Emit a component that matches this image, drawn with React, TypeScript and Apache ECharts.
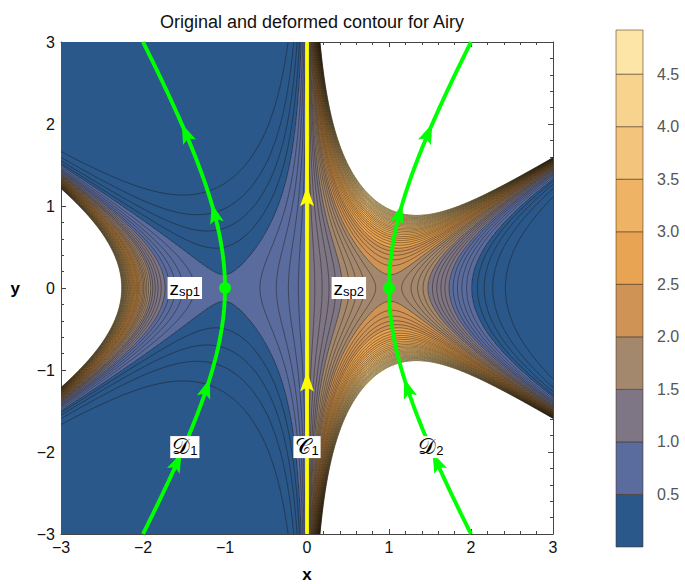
import React, { useEffect, useRef } from 'react';
import * as echarts from 'echarts';

const FONT = '"Liberation Sans", Arial, Helvetica, sans-serif';

const chartTitle = 'Original and deformed contour for Airy';
// plotted quantity: |exp(φ(z))| with φ(z) = z − z³/3 (coefficients c0..c3)
const phaseCoeffs = [0, 1, 0, -1 / 3];
const plotMin = -3;
const plotMax = 3;
const bandEdges = [0, 0.5, 1, 1.5, 2, 2.5, 3, 3.5, 4, 4.5, 5];
const bandColors = ['#2a588b', '#5a6b9e', '#7e7684', '#a4886e', '#cf9356', '#e8a452', '#eeb364', '#f3c47b', '#f8d38e', '#fde5a8'];
const contourLevels = [
  0.1, 0.2, 0.3, 0.4, 0.5, 0.6, 0.7, 0.8, 0.9, 1.0,
  1.1, 1.2, 1.3, 1.4, 1.5, 1.6, 1.7, 1.8, 1.9, 2.0,
  2.1, 2.2, 2.3, 2.4, 2.5, 2.6, 2.7, 2.8, 2.9, 3.0,
  3.1, 3.2, 3.3, 3.4, 3.5, 3.6, 3.7, 3.8, 3.9, 4.0,
  4.1, 4.2, 4.3, 4.4, 4.5, 4.6, 4.7, 4.8, 4.9,
];
const legendTicks = [0.5, 1, 1.5, 2, 2.5, 3, 3.5, 4, 4.5];
const legendTop = 4.92;
const saddlePoints = [[-1, 0], [1, 0]];
const pathLabels = [
  { text: '{m|z}{s|sp1}', x: -1.49, y: 0 },
  { text: '{m|z}{s|sp2}', x: 0.51, y: 0 },
  { text: '{d|𝒟}{s|1}', x: -1.49, y: -1.94 },
  { text: '{d|𝒞}{s|1}', x: 0, y: -1.94 },
  { text: '{d|𝒟}{s|2}', x: 1.51, y: -1.94 },
];
const descentBranches = [-1, 1]; // x = ±√(1 + y²/3): Im φ = 0 through the saddles
const descentArrowYs = [-2.12, -1.22, 0.91, 1.89];
const originalLineX = 0;
const originalArrowYs = [-1.14, 1.12];

function rePhase(x: number, y: number) {
  let zr = 1, zi = 0, s = 0;
  for (const c of phaseCoeffs) {
    s += c * zr;
    const nr = zr * x - zi * y;
    const ni = zr * y + zi * x;
    zr = nr; zi = ni;
  }
  return s;
}

function bandOf(g: number) {
  const v = Math.exp(g);
  if (v > bandEdges[bandEdges.length - 1]) return -1;
  for (let k = 1; k < bandEdges.length; k++) if (v < bandEdges[k]) return k - 1;
  return bandEdges.length - 2;
}

function buildRuns() {
  const n = 492;
  const d = (plotMax - plotMin) / n;
  const runs: number[][] = [];
  for (let r = 0; r < n; r++) {
    const y0 = plotMin + r * d;
    const yc = y0 + d / 2;
    let cur = -2, start = 0;
    for (let c = 0; c <= n; c++) {
      const b = c < n ? bandOf(rePhase(plotMin + (c + 0.5) * d, yc)) : -3;
      if (b !== cur) {
        if (cur >= 0) runs.push([plotMin + start * d, plotMin + c * d, y0, y0 + d, cur]);
        cur = b; start = c;
      }
    }
  }
  return runs;
}

function buildContours() {
  const N = 300;
  const h = (plotMax - plotMin) / N;
  const W = N + 1;
  const G = new Float64Array(W * W);
  for (let j = 0; j <= N; j++) for (let i = 0; i <= N; i++) G[j * W + i] = rePhase(plotMin + i * h, plotMin + j * h);
  const lines: number[][][] = [];
  for (const lev of contourLevels) {
    const L = Math.log(lev);
    const pts = new Map<number, number[]>();
    const sA: number[] = [], sB: number[] = [];
    const adj = new Map<number, number[]>();
    const addSeg = (e1: number, e2: number) => {
      const k = sA.length; sA.push(e1); sB.push(e2);
      if (!adj.has(e1)) adj.set(e1, []); adj.get(e1)!.push(k);
      if (!adj.has(e2)) adj.set(e2, []); adj.get(e2)!.push(k);
    };
    for (let j = 0; j < N; j++) {
      for (let i = 0; i < N; i++) {
        const a = G[j * W + i], b = G[j * W + i + 1], c = G[(j + 1) * W + i + 1], dd = G[(j + 1) * W + i];
        const ia = a > L, ib = b > L, ic = c > L, id = dd > L;
        if (ia === ib && ib === ic && ic === id) continue;
        const eB = 2 * (j * W + i), eR = 2 * (j * W + i + 1) + 1, eT = 2 * ((j + 1) * W + i), eL = 2 * (j * W + i) + 1;
        const cr: number[] = [];
        if (ia !== ib) { if (!pts.has(eB)) { const t = (L - a) / (b - a); pts.set(eB, [plotMin + (i + t) * h, plotMin + j * h]); } cr.push(eB); }
        if (ib !== ic) { if (!pts.has(eR)) { const t = (L - b) / (c - b); pts.set(eR, [plotMin + (i + 1) * h, plotMin + (j + t) * h]); } cr.push(eR); }
        if (id !== ic) { if (!pts.has(eT)) { const t = (L - dd) / (c - dd); pts.set(eT, [plotMin + (i + t) * h, plotMin + (j + 1) * h]); } cr.push(eT); }
        if (ia !== id) { if (!pts.has(eL)) { const t = (L - a) / (dd - a); pts.set(eL, [plotMin + i * h, plotMin + (j + t) * h]); } cr.push(eL); }
        if (cr.length === 2) addSeg(cr[0], cr[1]);
        else if (cr.length === 4) {
          const center = (a + b + c + dd) / 4 > L;
          if (center === ia) { addSeg(eB, eR); addSeg(eT, eL); }
          else { addSeg(eB, eL); addSeg(eR, eT); }
        }
      }
    }
    const used = new Uint8Array(sA.length);
    const walk = (e: number, out: number[]) => {
      let cur = e;
      for (;;) {
        const list = adj.get(cur) || [];
        let nxt = -1;
        for (const s of list) if (!used[s]) { nxt = s; break; }
        if (nxt < 0) break;
        used[nxt] = 1;
        cur = sA[nxt] === cur ? sB[nxt] : sA[nxt];
        out.push(cur);
      }
    };
    for (let s = 0; s < sA.length; s++) {
      if (used[s]) continue;
      used[s] = 1;
      const fwd: number[] = [sB[s]];
      walk(sB[s], fwd);
      const bwd: number[] = [];
      walk(sA[s], bwd);
      const chain = bwd.reverse().concat([sA[s]], fwd);
      lines.push(chain.map((e) => pts.get(e)!));
    }
  }
  return lines;
}

function descentPath(sign: number) {
  const out: number[][] = [];
  for (let k = 0; k <= 240; k++) {
    const y = plotMin + (k * (plotMax - plotMin)) / 240;
    out.push([sign * Math.sqrt(1 + (y * y) / 3), y]);
  }
  return out;
}

function descentArrow(sign: number, y: number) {
  const r = Math.sqrt(1 + (y * y) / 3);
  const dxdy = (sign * (y / 3)) / r;
  return { value: [sign * r, y], symbolRotate: (Math.atan2(-dxdy, 1) * 180) / Math.PI };
}

const ARROW = 'path://M0,0 L9,24 L0,19 L-9,24 Z';
const minusFmt = (v: number) => (v < 0 ? '−' + -v : String(v));

export default function App() {
  const ref = useRef<HTMLDivElement>(null);
  useEffect(() => {
    if (!ref.current) return;
    const chart = echarts.init(ref.current, undefined, { renderer: 'svg' });
    const runs = buildRuns();
    const contours = buildContours();
    const contourData = contours.map((p, k) => [p[0][0], p[0][1], k]);
    const legendData = bandColors.map((_, k) => [bandEdges[k], Math.min(bandEdges[k + 1], legendTop), k]);

    const frameAxis = {
      type: 'value' as const,
      min: plotMin,
      max: plotMax,
      interval: 1,
      splitLine: { show: false },
      axisLine: { show: true, onZero: false, lineStyle: { color: '#444', width: 1 } },
      axisTick: { show: true, inside: true, length: 5, lineStyle: { color: '#444' } },
      minorTick: { show: true, splitNumber: 5, length: 3, lineStyle: { color: '#444' } },
    };

    chart.setOption({
      animation: false,
      backgroundColor: '#fff',
      title: {
        text: chartTitle,
        left: 307,
        top: 8,
        textAlign: 'center',
        textStyle: { fontFamily: FONT, fontSize: 18, fontWeight: 'normal', color: '#111' },
      },
      grid: [
        { left: 61, top: 42, width: 492, height: 492, outerBoundsMode: 'none', containLabel: false },
        { left: 616, top: 30, width: 27, height: 517, outerBoundsMode: 'none', containLabel: false },
      ],
      xAxis: [
        {
          ...frameAxis, position: 'bottom', name: 'x', nameLocation: 'middle', nameGap: 32,
          nameTextStyle: { fontFamily: FONT, fontSize: 17, fontWeight: 'bold', color: '#000' },
          axisLabel: { fontFamily: FONT, fontSize: 16, color: '#111', margin: 5, formatter: minusFmt },
        },
        { ...frameAxis, position: 'top', axisLabel: { show: false } },
        { gridIndex: 1, type: 'value', min: 0, max: 1, show: false },
      ],
      yAxis: [
        {
          ...frameAxis, position: 'left', name: 'y', nameLocation: 'middle', nameGap: 41, nameRotate: 0,
          nameTextStyle: { fontFamily: FONT, fontSize: 17, fontWeight: 'bold', color: '#000' },
          axisLabel: { fontFamily: FONT, fontSize: 16, color: '#111', margin: 6, formatter: minusFmt },
        },
        { ...frameAxis, position: 'right', axisLabel: { show: false } },
        {
          gridIndex: 1, type: 'value', min: 0, max: legendTop, position: 'right',
          splitLine: { show: false },
          axisLine: { show: false },
          axisTick: { show: true, inside: false, length: 7, customValues: legendTicks, lineStyle: { color: '#aaa' } },
          axisLabel: {
            show: true, customValues: legendTicks, margin: 14, fontFamily: FONT, fontSize: 16, color: '#555',
            formatter: (v: number) => v.toFixed(1),
          },
        },
      ],
      series: [
        {
          type: 'custom',
          name: 'bands',
          xAxisIndex: 0, yAxisIndex: 0,
          coordinateSystem: 'cartesian2d',
          data: runs,
          encode: { x: [0, 1], y: [2, 3] },
          silent: true,
          z: 1,
          renderItem: (_p: any, api: any) => {
            const p0 = api.coord([api.value(0), api.value(3)]);
            const p1 = api.coord([api.value(1), api.value(2)]);
            const x0 = Math.round(p0[0]), y0 = Math.round(p0[1]);
            const x1 = Math.round(p1[0]), y1 = Math.round(p1[1]);
            return {
              type: 'rect',
              shape: { x: x0, y: y0, width: x1 - x0, height: Math.max(1, y1 - y0) },
              style: { fill: bandColors[api.value(4)] },
            };
          },
        },
        {
          type: 'custom',
          name: 'contours',
          xAxisIndex: 0, yAxisIndex: 0,
          coordinateSystem: 'cartesian2d',
          data: contourData,
          encode: { x: 0, y: 1 },
          silent: true,
          clip: true,
          z: 2,
          renderItem: (_p: any, api: any) => {
            const pts = contours[api.value(2)].map((q) => api.coord(q));
            return {
              type: 'polyline',
              shape: { points: pts },
              style: { stroke: 'rgba(25,18,10,0.58)', lineWidth: 0.75, fill: null },
            };
          },
        },
        {
          type: 'line',
          name: 'C1',
          data: [[originalLineX, plotMin], [originalLineX, plotMax]],
          symbol: 'none',
          lineStyle: { color: '#ffff00', width: 3.8 },
          z: 3,
        },
        {
          type: 'scatter',
          data: originalArrowYs.map((y) => ({ value: [originalLineX, y], symbolRotate: 0 })),
          symbol: ARROW,
          symbolSize: [14, 20],
          itemStyle: { color: '#ffff00', opacity: 1 },
          z: 4,
        },
        ...descentBranches.map((s) => ({
          type: 'line',
          name: s < 0 ? 'D1' : 'D2',
          data: descentPath(s),
          symbol: 'none',
          clip: true,
          lineStyle: { color: '#00ff00', width: 3.9 },
          z: 5,
        })),
        {
          type: 'scatter',
          data: descentBranches.flatMap((s) => descentArrowYs.map((y) => descentArrow(s, y))),
          symbol: ARROW,
          symbolSize: [14, 20],
          itemStyle: { color: '#00ff00', opacity: 1 },
          z: 6,
        },
        {
          type: 'scatter',
          data: saddlePoints,
          symbol: 'circle',
          symbolSize: 12,
          itemStyle: { color: '#00ff00', opacity: 1 },
          z: 6,
        },
        {
          type: 'scatter',
          data: pathLabels.map((l) => ({ value: [l.x, l.y], label: { formatter: l.text } })),
          symbolSize: 0,
          z: 7,
          label: {
            show: true,
            position: 'inside',
            backgroundColor: '#ffffff',
            opacity: 1,
            padding: [1, 2, 1, 2],
            rich: {
              m: { fontFamily: FONT, fontSize: 19, lineHeight: 20, color: '#000', verticalAlign: 'bottom' },
              d: { fontFamily: 'serif', fontSize: 22, lineHeight: 20, color: '#000', verticalAlign: 'bottom' },
              s: { fontFamily: FONT, fontSize: 13, lineHeight: 9, color: '#000', verticalAlign: 'bottom' },
            },
          },
        },
        {
          type: 'custom',
          name: 'legend',
          xAxisIndex: 2, yAxisIndex: 2,
          coordinateSystem: 'cartesian2d',
          data: legendData,
          encode: { y: [0, 1] },
          silent: true,
          renderItem: (_p: any, api: any) => {
            const p0 = api.coord([0, api.value(1)]);
            const p1 = api.coord([1, api.value(0)]);
            return {
              type: 'rect',
              shape: { x: p0[0], y: p0[1], width: p1[0] - p0[0], height: p1[1] - p0[1] },
              style: { fill: bandColors[api.value(2)], stroke: 'rgba(70,50,30,0.55)', lineWidth: 1 },
            };
          },
        },
      ],
    });
    return () => chart.dispose();
  }, []);
  return <div ref={ref} style={{ position: 'absolute', left: 0, top: 0, width: 685, height: 584 }} />;
}
